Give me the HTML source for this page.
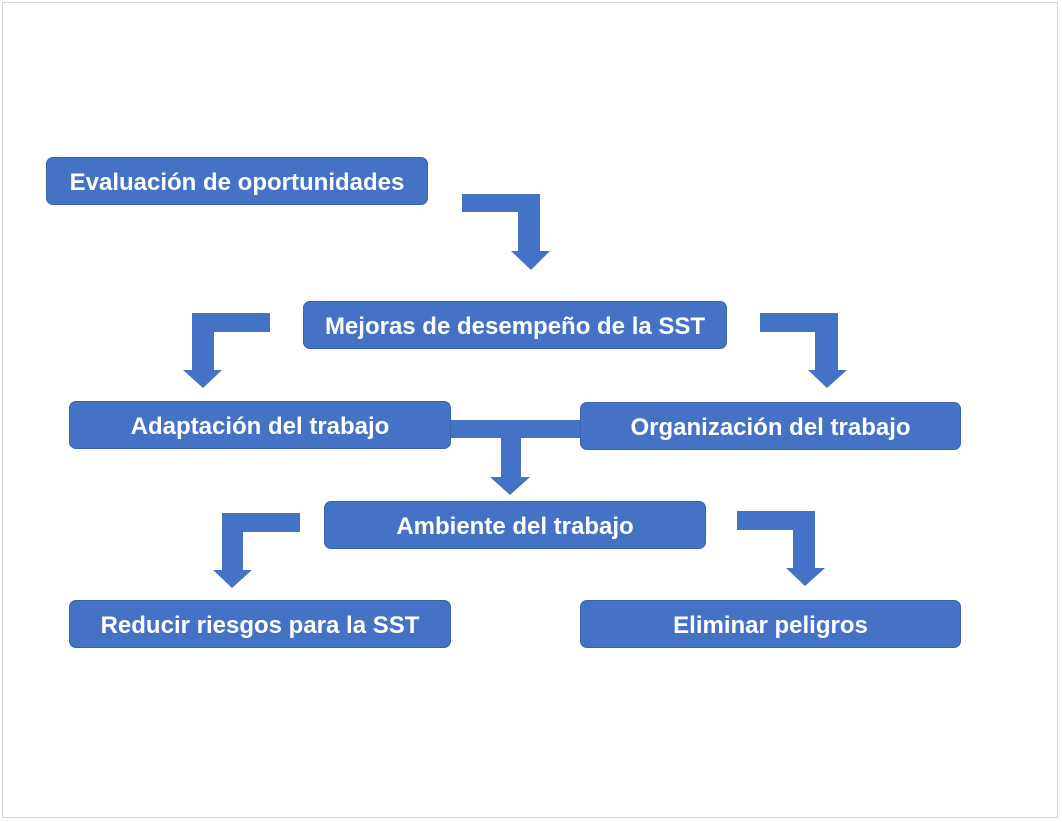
<!DOCTYPE html>
<html><head><meta charset="utf-8"><style>
body{margin:0;width:1062px;height:822px;background:#fff;position:relative;overflow:hidden;font-family:"Liberation Sans",sans-serif}
.frame{position:absolute;left:2px;top:2px;width:1056px;height:816px;border:1px solid #d4d4d4;box-sizing:border-box}
.b{position:absolute;background:#4472C4;border:1px solid #3a62a8;border-radius:7px;box-sizing:border-box;color:#fff;font-weight:bold;font-size:24px;padding-top:3px;display:flex;align-items:center;justify-content:center;white-space:nowrap}
svg{position:absolute;left:0;top:0}
</style></head><body>
<div class="frame"></div>
<svg width="1062" height="822" fill="#4472C4">
<polygon points="462,194 540,194 540,251 550,251 531,270 511,251 518,251 518,212 462,212"/>
<polygon points="760,313 838,313 838,370 847,370 827,388 808,370 815,370 815,332 760,332"/>
<polygon points="270,313 192,313 192,370 183,370 203,388 222,370 214,370 214,332 270,332"/>
<rect x="441" y="420" width="140" height="18"/>
<polygon points="501,438 521,438 521,477 530,477 510,495 490,477 501,477"/>
<polygon points="300,513 222,513 222,570 213,570 232,588 252,570 243,570 243,532 300,532"/>
<polygon points="737,511 815,511 815,568 825,568 805,586 786,568 793,568 793,530 737,530"/>
</svg>
<div class="b" style="left:46px;top:157px;width:382px;height:48px">Evaluación de oportunidades</div>
<div class="b" style="left:303px;top:301px;width:424px;height:48px">Mejoras de desempeño de la SST</div>
<div class="b" style="left:69px;top:401px;width:382px;height:48px">Adaptación del trabajo</div>
<div class="b" style="left:580px;top:402px;width:381px;height:48px">Organización del trabajo</div>
<div class="b" style="left:324px;top:501px;width:382px;height:48px">Ambiente del trabajo</div>
<div class="b" style="left:69px;top:600px;width:382px;height:48px">Reducir riesgos para la SST</div>
<div class="b" style="left:580px;top:600px;width:381px;height:48px">Eliminar peligros</div>
</body></html>
